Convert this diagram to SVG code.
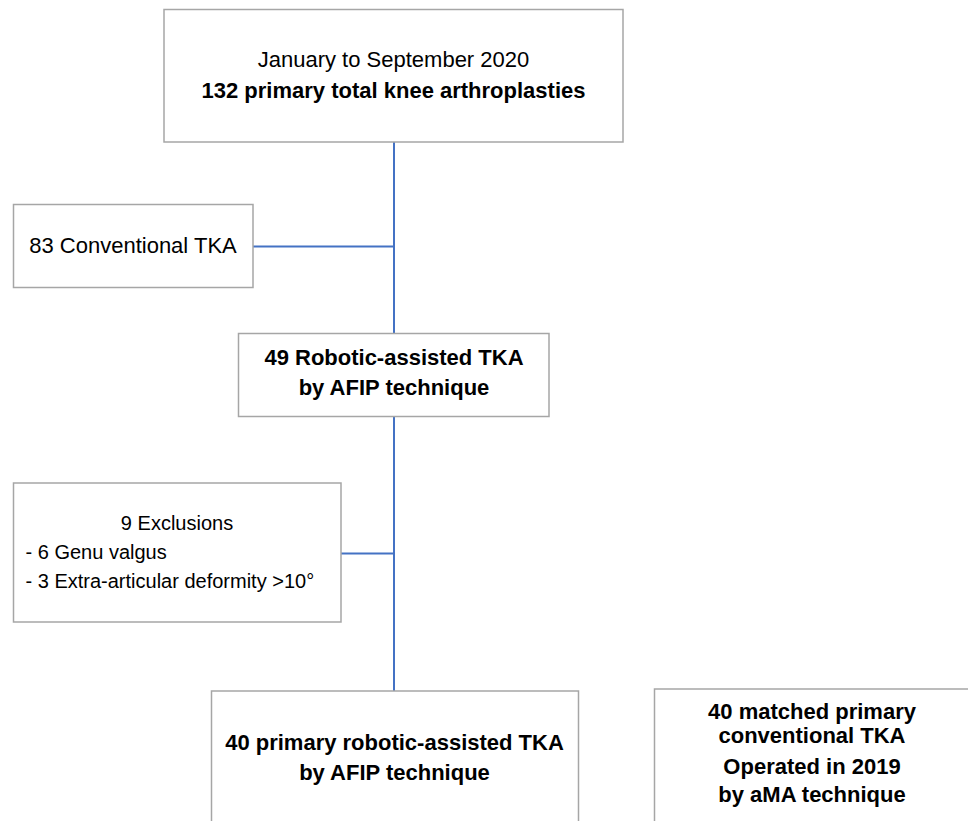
<svg xmlns="http://www.w3.org/2000/svg" width="968" height="821" viewBox="0 0 968 821">
  <style>
    .box { fill: #ffffff; stroke: #a6a6a6; stroke-width: 1.5; }
    .t { font-family: "Liberation Sans", Arial, sans-serif; font-size: 22px; fill: #000; text-anchor: middle; }
    .b { font-weight: bold; }
    .s { font-size: 20px; }
    .l { text-anchor: start; }
    .conn { stroke: #4472c4; stroke-width: 2; fill: none; }
  </style>
  <rect x="0" y="0" width="968" height="821" fill="#ffffff"/>
  <g id="connectors">
    <line class="conn" x1="394" y1="142" x2="394" y2="333"/>
    <line class="conn" x1="253" y1="246.5" x2="394" y2="246.5"/>
    <line class="conn" x1="394" y1="417" x2="394" y2="691"/>
    <line class="conn" x1="341" y1="553.5" x2="394" y2="553.5"/>
  </g>
  <g id="node-total">
    <rect class="box" x="164" y="9.5" width="459" height="132.5"/>
    <text class="t" x="393.5" y="67">January to September 2020</text>
    <text class="t b" x="393.5" y="98">132 primary total knee arthroplasties</text>
  </g>
  <g id="node-conventional">
    <rect class="box" x="13.5" y="204.5" width="239.5" height="83"/>
    <text class="t" x="133" y="253">83 Conventional TKA</text>
  </g>
  <g id="node-robotic">
    <rect class="box" x="238.5" y="333.5" width="310.5" height="83"/>
    <text class="t b" x="394" y="365">49 Robotic-assisted TKA</text>
    <text class="t b" x="394" y="395">by AFIP technique</text>
  </g>
  <g id="node-exclusions">
    <rect class="box" x="13.5" y="483" width="327.5" height="139"/>
    <text class="t s" x="177" y="530">9 Exclusions</text>
    <text class="t s l" x="25.5" y="559">- 6 Genu valgus</text>
    <text class="t s l" x="25.5" y="588">- 3 Extra-articular deformity &gt;10°</text>
  </g>
  <g id="node-final-robotic">
    <rect class="box" x="211.5" y="691" width="367" height="160"/>
    <text class="t b" x="394.5" y="749.5">40 primary robotic-assisted TKA</text>
    <text class="t b" x="394.5" y="780">by AFIP technique</text>
  </g>
  <g id="node-matched-conventional">
    <rect class="box" x="654.5" y="689" width="330" height="160"/>
    <text class="t b" x="812" y="719">40 matched primary</text>
    <text class="t b" x="812" y="743">conventional TKA</text>
    <text class="t b" x="812" y="774">Operated in 2019</text>
    <text class="t b" x="812" y="802">by aMA technique</text>
  </g>
</svg>
